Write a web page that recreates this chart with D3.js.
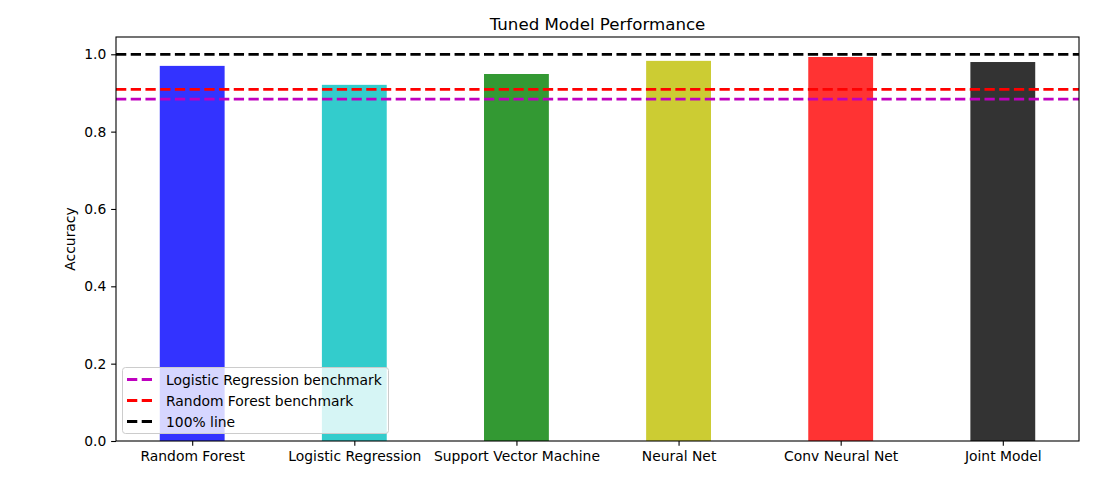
<!DOCTYPE html>
<html><head><meta charset="utf-8">
<script src="https://cdn.jsdelivr.net/npm/d3@7"></script>
<style>body{margin:0;background:#fff}svg{font-family:"DejaVu Sans",sans-serif}</style>
</head><body><svg id="c" width="1111" height="480"></svg>
<script>
const categories = ["Random Forest","Logistic Regression","Support Vector Machine","Neural Net","Conv Neural Net","Joint Model"];
const accuracy = [0.970, 0.921, 0.949, 0.983, 0.993, 0.980];
const barColors = ["#3333ff","#33cccc","#339933","#cccc33","#ff3333","#333333"];
const refLabels = ["Logistic Regression benchmark","Random Forest benchmark","100% line"];
const refValues = [0.884, 0.9095, 1.0];
const refColors = ["#bf00bf","#ff0000","#000000"];
const yTicks = [0.0,0.2,0.4,0.6,0.8,1.0];

const svg = d3.select("#c");
const L=116, R=1079, T=37, B=441;
const x = d3.scaleLinear().domain([-0.47,5.47]).range([L,R]);
const y = d3.scaleLinear().domain([0,1.0447]).range([B,T]);
const bw = 0.4;
const FS = "13.89px";

svg.selectAll("rect.bar").data(accuracy).enter().append("rect")
  .attr("x",(d,i)=>x(i-bw/2)).attr("width",(d,i)=>x(i+bw/2)-x(i-bw/2))
  .attr("y",d=>y(d)).attr("height",d=>y(0)-y(d)).attr("fill",(d,i)=>barColors[i]);

svg.selectAll("line.ref").data(refValues).enter().append("line")
  .attr("x1",L).attr("x2",R).attr("y1",d=>y(d)).attr("y2",d=>y(d))
  .attr("stroke",(d,i)=>refColors[i]).attr("stroke-width",2.78).attr("stroke-dasharray","10.28,4.44");

const yAxis = svg.append("g").attr("transform",`translate(${L},0)`)
  .call(d3.axisLeft(y).tickValues(yTicks).tickFormat(d3.format(".1f")).tickSize(4.86).tickPadding(4.86));
const xAxis = svg.append("g").attr("transform",`translate(0,${B})`)
  .call(d3.axisBottom(x).tickValues(d3.range(categories.length)).tickFormat(i=>categories[i]).tickSize(4.86).tickPadding(4.86));
[yAxis,xAxis].forEach(a=>{a.select(".domain").remove();a.selectAll("text").attr("font-size",FS).attr("fill","#000").attr("font-family","DejaVu Sans");a.selectAll("line").attr("stroke","#000").attr("stroke-width",1.1);});

svg.append("rect").attr("x",L).attr("y",T).attr("width",R-L).attr("height",B-T)
  .attr("fill","none").attr("stroke","#000").attr("stroke-width",1.1);

svg.append("text").attr("x",(L+R)/2).attr("y",29.5).attr("text-anchor","middle")
  .attr("font-size","16.67px").text("Tuned Model Performance");
svg.append("text").attr("transform",`translate(75,${(T+B)/2}) rotate(-90)`).attr("text-anchor","middle")
  .attr("font-size",FS).text("Accuracy");

// legend
const lg = svg.append("g");
lg.append("rect").attr("x",122.5).attr("y",367.5).attr("width",266).attr("height",66).attr("rx",3)
  .attr("fill","rgba(255,255,255,0.8)").attr("stroke","#cccccc").attr("stroke-width",1);
[0,1,2].forEach((k,j)=>{
  const yy = 379.5 + j*21;
  lg.append("line").attr("x1",127).attr("x2",155).attr("y1",yy).attr("y2",yy)
    .attr("stroke",refColors[k]).attr("stroke-width",2.78).attr("stroke-dasharray","10.28,4.44");
  lg.append("text").attr("x",166).attr("y",yy+5).attr("font-size",FS).text(refLabels[k]);
});
</script></body></html>
